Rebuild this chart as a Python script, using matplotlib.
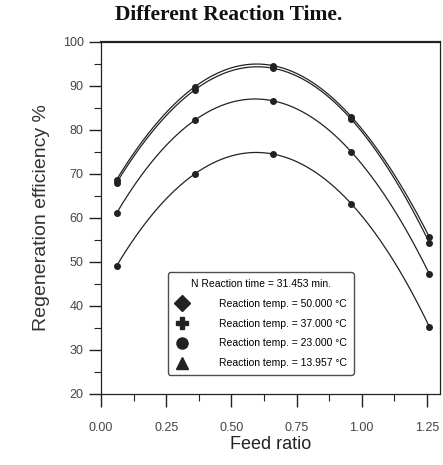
import numpy as np
import matplotlib.pyplot as plt
from matplotlib.ticker import MultipleLocator

# Data
feed_ratio = [0.06, 0.36, 0.66, 0.96, 1.26]
eff_50 = [68.0, 89.1, 94.0, 82.4, 54.3]
eff_37 = [61.1, 82.2, 86.6, 75.0, 47.2]
eff_23 = [68.7, 89.8, 94.6, 83.0, 55.6]
eff_14 = [49.1, 70.0, 74.5, 63.2, 35.2]

labels = ['Reaction temp. = 50.000 °C', 'Reaction temp. = 37.000 °C',
          'Reaction temp. = 23.000 °C', 'Reaction temp. = 13.957 °C']
markers = ['D', 'P', 'o', '^']

plt.rcParams['font.family'] = ['Liberation Sans', 'DejaVu Sans']

fig = plt.figure(figsize=(4.43, 4.65), dpi=100)
ax = fig.add_axes([0.228, 0.153, 0.765, 0.757])

ink = '#222222'
xs = np.linspace(feed_ratio[0], feed_ratio[-1], 200)
for ys, lab, m in zip([eff_50, eff_37, eff_23, eff_14], labels, markers):
    coef = np.polyfit(feed_ratio, ys, 4)
    ax.plot(xs, np.polyval(coef, xs), color=ink, lw=0.9)
    ax.plot(feed_ratio, ys, linestyle='none', marker='o', ms=4, color=ink)
    # legend handle with the bigger symbol
    ax.plot([], [], linestyle='none', marker=m, ms=8, color=ink, label=lab)

ax.set_xlim(0, 1.3)
ax.set_ylim(20, 100)
ax.xaxis.set_major_locator(MultipleLocator(0.25))
ax.xaxis.set_minor_locator(MultipleLocator(0.125))
ax.yaxis.set_major_locator(MultipleLocator(10))
ax.yaxis.set_minor_locator(MultipleLocator(5))
ax.xaxis.set_major_formatter(plt.FuncFormatter(lambda v, p: f'{v:.2f}'))
ax.tick_params(which='major', direction='out', length=9, width=1, colors=ink,
               labelsize=9, labelcolor='#444444')
ax.tick_params(which='minor', direction='out', length=5, width=0.8, colors=ink)
ax.tick_params(axis='x', pad=11)

ax.spines['top'].set_linewidth(1.6)
for s in ['left', 'right', 'bottom']:
    ax.spines[s].set_linewidth(0.9)
for s in ax.spines.values():
    s.set_color(ink)

ax.set_xlabel('Feed ratio', fontsize=13, color=ink, labelpad=2)
ax.set_ylabel('Regeneration efficiency %', fontsize=14, color='#333333', labelpad=9)

fig.text(0.517, 0.967, 'Different Reaction Time.', ha='center', va='center',
         fontsize=15.5, fontweight='bold', family='Liberation Serif', color='#111111')

leg = ax.legend(title='N Reaction time = 31.453 min.', loc='lower left',
                bbox_to_anchor=(0.183, 0.04), fontsize=7.5, title_fontsize=7.5,
                frameon=True, fancybox=True, edgecolor=ink, handletextpad=2.8,
                labelspacing=0.95, borderpad=0.6, handlelength=1.5)
leg.get_frame().set_linewidth(1.0)

plt.savefig('out.png')
plt.close()
